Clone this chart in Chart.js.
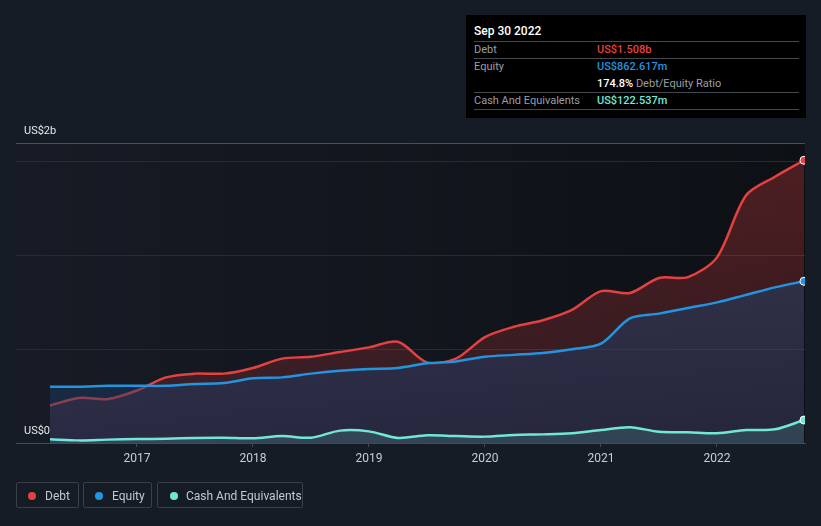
<!DOCTYPE html>
<html>
<head>
<meta charset="utf-8">
<script src="https://cdn.jsdelivr.net/npm/chart.js@4.4.0/dist/chart.umd.min.js"></script>
<style>
  body { margin: 0; background: #161c26; font-family: Roboto, sans-serif; }
  #wrap { position: relative; width: 821px; height: 526px; overflow: hidden; }
  #chart { position: absolute; left: 0; top: 0; }
  .ylab { position: absolute; left: 24px; color: #e6e8eb; font-size: 11px; line-height: 12px; }
  #tip { position: absolute; left: 466px; top: 15px; width: 340px; height: 103px; background: #000; }
  #tip .title { position: absolute; left: 8px; top: 9px; color: #fff; font-size: 12px; font-weight: 500; }
  #tip .row { position: absolute; left: 8px; width: 325px; height: 17px; font-size: 11px; line-height: 17px; color: #9a9ea5; }
  #tip .line { border-bottom: 1px solid #44484f; }
  #tip .val { position: absolute; left: 123px; top: 0; font-weight: 500; }
  .leg { position: absolute; top: 482px; height: 26px; border: 1px solid #3a3f48; border-radius: 2px; color: #c4c8ce; font-size: 12px; line-height: 26px; box-sizing: border-box; }
  .leg i { position: absolute; top: 9px; width: 8px; height: 8px; border-radius: 50%; }
  .leg span { position: absolute; top: 0; }
</style>
</head>
<body>
<div id="wrap">
  <canvas id="chart" width="821" height="526"></canvas>
  <div class="ylab" style="top:125px">US$2b</div>
  <div class="ylab" style="top:425px">US$0</div>

  <div id="tip">
    <div class="title">Sep 30 2022</div>
    <div class="row line" style="top:9px;height:17px"></div>
    <div class="row line" style="top:26px">Debt<span class="val" style="color:#e64141">US$1.508b</span></div>
    <div class="row" style="top:43px">Equity<span class="val" style="color:#2394df">US$862.617m</span></div>
    <div class="row line" style="top:60px"><span class="val" style="color:#9a9ea5;font-weight:400"><b style="color:#fff;font-weight:500">174.8%</b> Debt/Equity Ratio</span></div>
    <div class="row line" style="top:77px">Cash And Equivalents<span class="val" style="color:#71e7d6">US$122.537m</span></div>
  </div>

  <div class="leg" style="left:16px;width:63px"><i style="left:11px;background:#e64141"></i><span style="left:28px">Debt</span></div>
  <div class="leg" style="left:83px;width:69px"><i style="left:11px;background:#2394df"></i><span style="left:28px">Equity</span></div>
  <div class="leg" style="left:157px;width:146px"><i style="left:12px;background:#71e7d6"></i><span style="left:28px">Cash And Equivalents</span></div>
</div>

<script>
// quarter ends, values in US$ billions
const dates = ['2016-03-31','2016-06-30','2016-09-30','2016-12-31','2017-03-31','2017-06-30','2017-09-30','2017-12-31',
  '2018-03-31','2018-06-30','2018-09-30','2018-12-31','2019-03-31','2019-06-30','2019-09-30','2019-12-31',
  '2020-03-31','2020-06-30','2020-09-30','2020-12-31','2021-03-31','2021-06-30','2021-09-30','2021-12-31',
  '2022-03-31','2022-06-30','2022-09-30'];
const debt = [0.20,0.24,0.235,0.28,0.35,0.37,0.37,0.40,0.45,0.46,0.485,0.51,0.54,0.43,0.45,0.565,
  0.62,0.655,0.71,0.81,0.80,0.88,0.885,0.99,1.32,1.42,1.508];
const equity = [0.30,0.30,0.305,0.305,0.305,0.315,0.32,0.345,0.35,0.37,0.385,0.395,0.40,0.425,0.435,0.46,
  0.47,0.48,0.50,0.53,0.665,0.69,0.72,0.75,0.79,0.83,0.8626];
const cash = [0.02,0.014,0.018,0.021,0.023,0.027,0.028,0.025,0.037,0.028,0.066,0.062,0.027,0.041,0.037,0.034,
  0.043,0.046,0.052,0.069,0.084,0.06,0.057,0.052,0.069,0.073,0.1225];
const xTicks = [2017, 2018, 2019, 2020, 2021, 2022];

const toYear = function (d) {
  let p = d.split('-');
  return +p[0] + (+p[1]) / 12;
};
const pts = function (vals) {
  return vals.map(function (v, i) { return { x: toYear(dates[i]), y: v }; });
};

const lastDot = function (ctx) { return ctx.dataIndex === dates.length - 1 ? 4 : 0; };

const vGrad = function (top, bottom) {
  return function (ctx) {
    let a = ctx.chart.chartArea;
    if (!a) return top;
    let g = ctx.chart.ctx.createLinearGradient(0, a.top, 0, a.bottom);
    g.addColorStop(0, top);
    g.addColorStop(1, bottom);
    return g;
  };
};

const plotBg = {
  id: 'plotBg',
  beforeDraw(chart) {
    let c = chart.ctx, a = chart.chartArea;
    let g = c.createLinearGradient(a.left, 0, a.right, 0);
    g.addColorStop(0, '#161b25');
    g.addColorStop(1, '#0d1015');
    c.save();
    c.fillStyle = g;
    c.fillRect(a.left, a.top, a.right - a.left, a.bottom - a.top);
    c.restore();
  }
};

const line = function (label, data, color, fillTop, fillBottom, order) {
  return {
    label: label,
    data: pts(data),
    borderColor: color,
    borderWidth: 2.5,
    tension: 0.3,
    fill: 'origin',
    backgroundColor: vGrad(fillTop, fillBottom),
    pointRadius: lastDot,
    pointHoverRadius: lastDot,
    pointBackgroundColor: color,
    pointBorderColor: '#ffffff',
    pointBorderWidth: 1,
    order: order
  };
};

new Chart(document.getElementById('chart').getContext('2d'), {
  type: 'line',
  data: {
    datasets: [
      line('Debt', debt, '#e64141', 'rgba(232,65,65,0.30)', 'rgba(232,65,65,0.14)', 3),
      line('Equity', equity, '#2394df', 'rgba(28,89,136,0.45)', 'rgba(28,54,98,0.45)', 2),
      line('Cash And Equivalents', cash, '#71e7d6', 'rgba(113,231,214,0.25)', 'rgba(113,231,214,0.15)', 1)
    ]
  },
  options: {
    responsive: false,
    animation: false,
    layout: { padding: { left: 16, right: 16, top: 143, bottom: 0 } },
    plugins: { legend: { display: false }, tooltip: { enabled: false } },
    scales: {
      x: {
        type: 'linear',
        min: 2015.957,
        max: 2022.759,
        afterFit: function (s) { s.height = 83; },
        afterBuildTicks: function (s) { s.ticks = xTicks.map(function (v) { return { value: v }; }); },
        grid: { drawOnChartArea: false, color: '#454b55', tickLength: 4 },
        border: { display: true, color: '#454b55', width: 1 },
        ticks: { color: '#c9cdd3', font: { family: 'Roboto', size: 12 }, padding: 5, maxRotation: 0,
          callback: function (v) { return String(v); } }
      },
      y: {
        min: 0,
        max: 1.6,
        afterFit: function (s) { s.width = 0; },
        ticks: { display: false, stepSize: 0.5 },
        grid: {
          drawTicks: false,
          color: function (c) {
            if (c.tick.value === 1.6) return '#4a4f58';
            if (c.tick.value === 0) return 'rgba(0,0,0,0)';
            return '#262b34';
          }
        },
        border: { display: false }
      }
    }
  },
  plugins: [plotBg]
});
</script>
</body>
</html>
